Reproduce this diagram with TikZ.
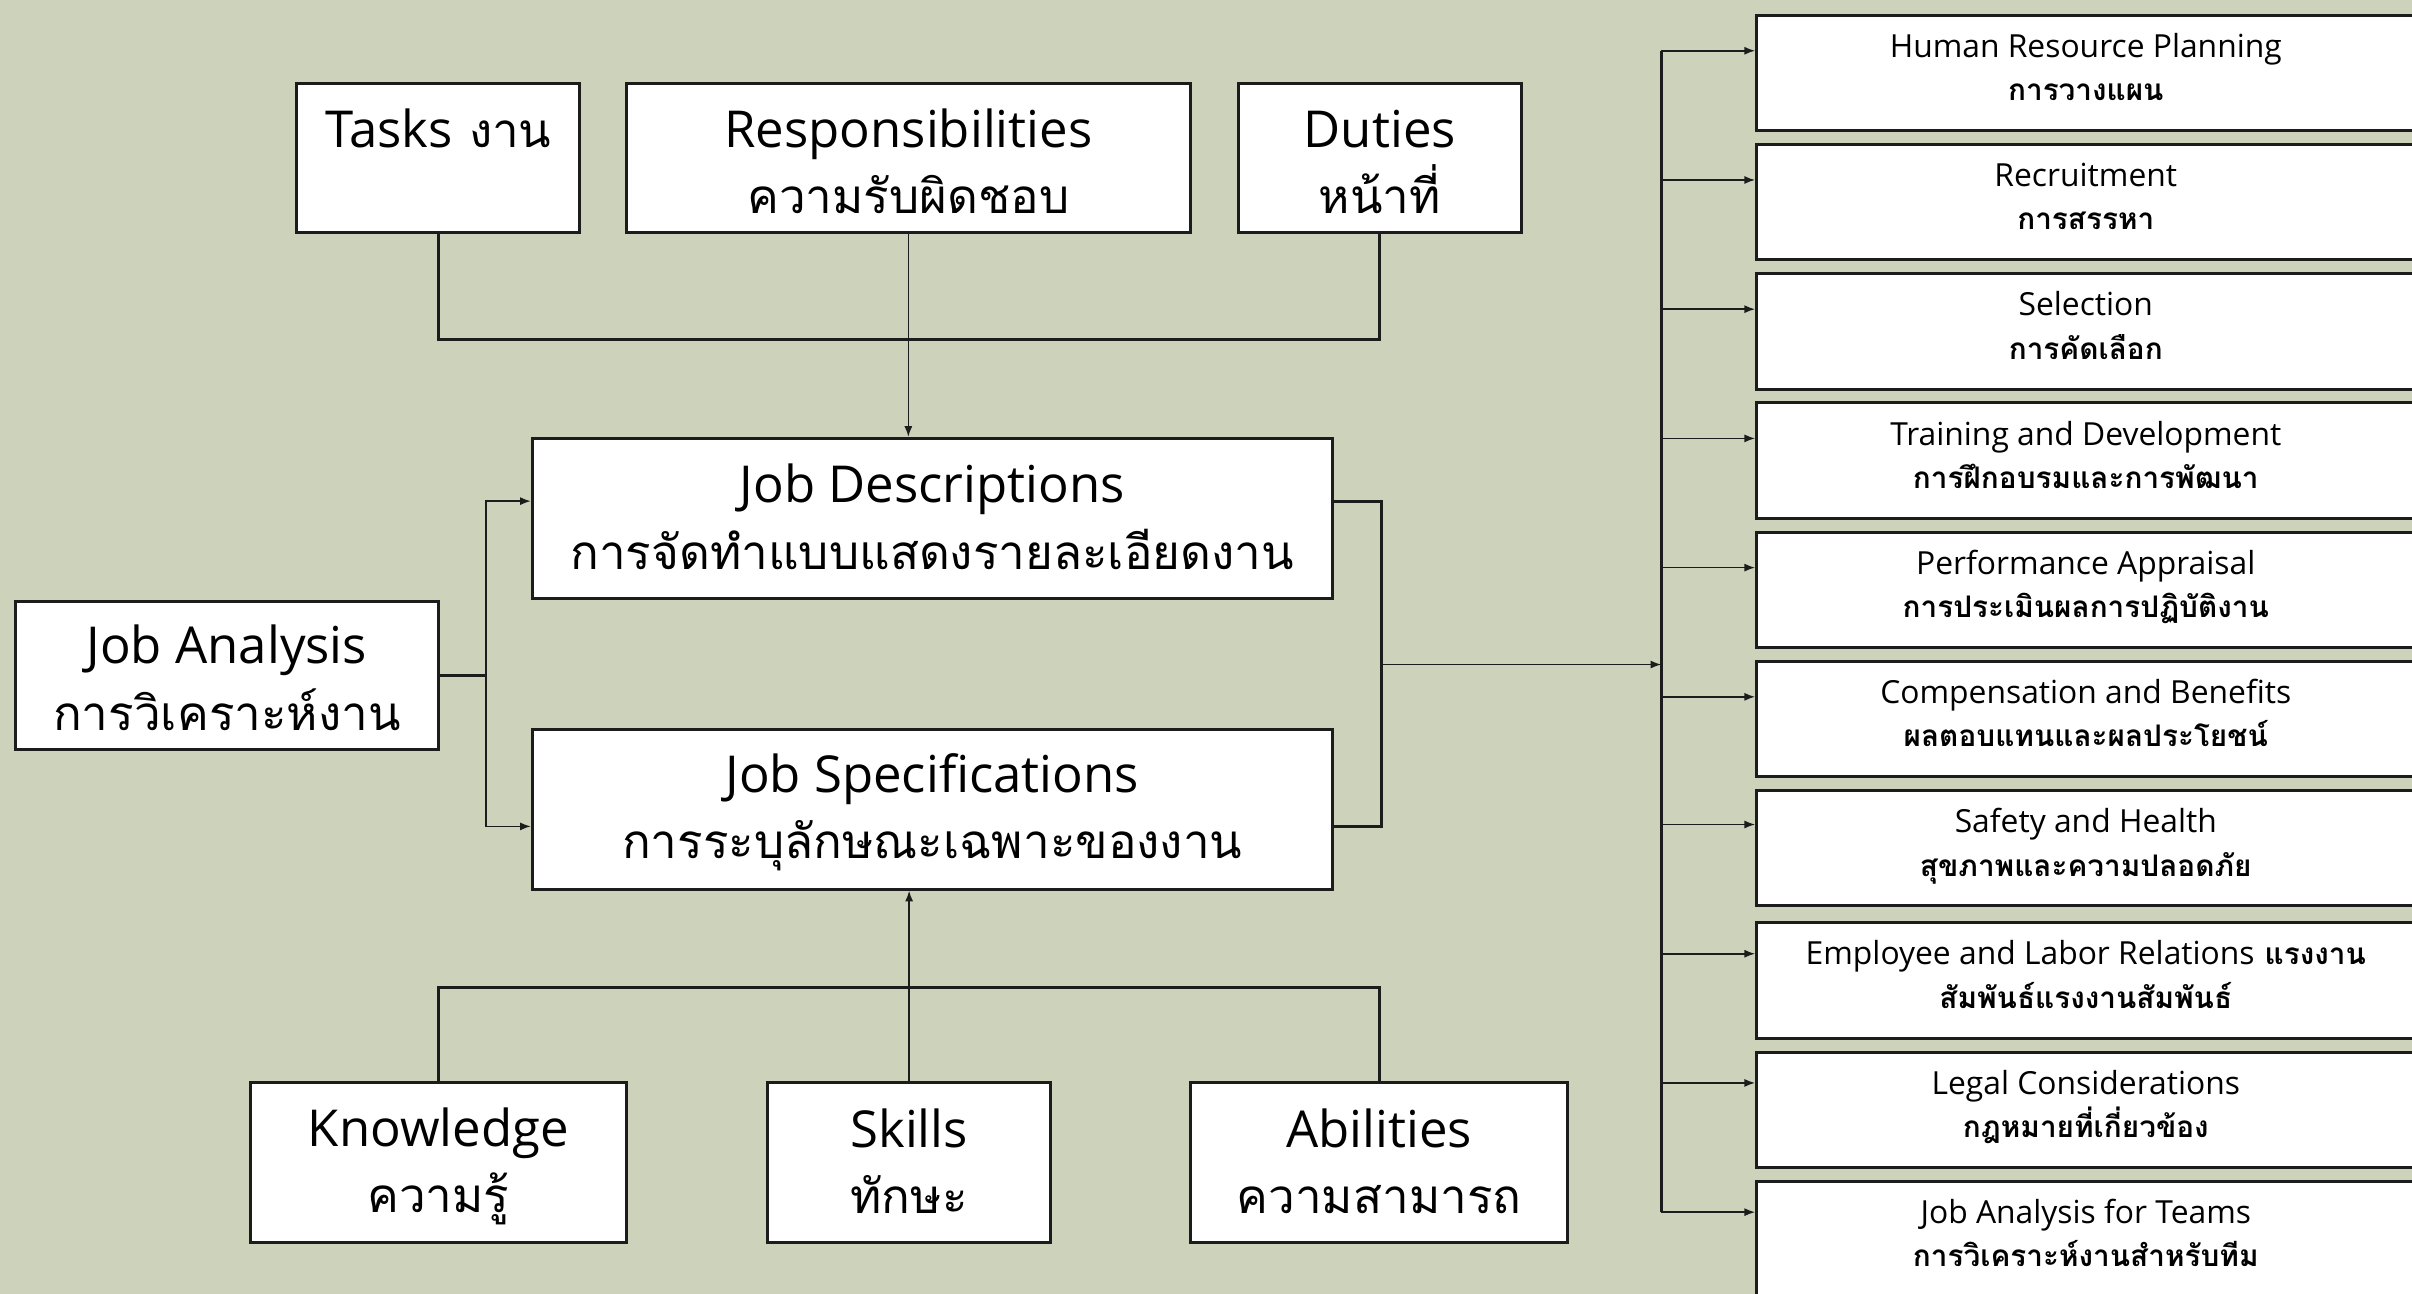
\documentclass[tikz,border=0pt]{standalone}
\usepackage{fontspec}
\setmainfont[Script=Thai]{Loma}
\newfontfamily\latfont[Scale=1.07]{Open Sans}
\usetikzlibrary{arrows.meta,calc}
\definecolor{bg}{RGB}{205,210,186}
\definecolor{ink}{RGB}{28,28,28}
% Latin words in the sans face, Thai in Loma
\newcommand\en[1]{{\latfont #1}}
% struts that give every two-line box the same text block
\newcommand\tp{\rule{0pt}{17pt}}
\newcommand\bt[1][4pt]{\rule[-#1]{0pt}{#1}}
% Thai line of the HR boxes, with a fixed depth so the text sits a little high
\newcommand\hrth[1]{{\bfseries\fontsize{11}{16}\selectfont #1\rule[-4.5pt]{0pt}{4.5pt}}}

\begin{document}
\begin{tikzpicture}[x=0.02cm,y=-0.02cm,
  box/.style={draw=ink, line width=1.1pt, fill=white, align=center, inner sep=0pt},
  big/.style={box, font=\fontsize{17.6}{24.5}\selectfont},
  hr/.style={box, font=\fontsize{11}{16}\selectfont, minimum width=8.56cm, minimum height=1.5cm, anchor=north west},
  link/.style={draw=ink, line width=1.1pt},
  feed/.style={draw=ink, line width=0.6pt, -{Latex[length=4pt,width=3pt]}},
]
\fill[bg] (0,0) rectangle (1568,841);
\useasboundingbox (0,0) rectangle (1568,841);
\begin{scope}
\clip (0,0) rectangle (1568,841);

% top row: what the job consists of
\node[big, minimum width=3.68cm, minimum height=1.94cm] (tasks) at (285,102.5) {\tp\en{Tasks} งาน\\\bt[0pt]};
\node[big, minimum width=7.34cm, minimum height=1.94cm] (resp) at (590.5,102.5) {\tp\en{Responsibilities}\\ความรับผิดชอบ\bt[0pt]};
\node[big, minimum width=3.68cm, minimum height=1.94cm] (duties) at (897,102.5) {\tp\en{Duties}\\หน้าที่\bt[0pt]};

% the two products of job analysis
\node[big, minimum width=10.4cm, minimum height=2.08cm] (jd) at (606,337) {\tp\en{Job Descriptions}\\การจัดทำแบบแสดงรายละเอียดงาน\bt};
\node[big, minimum width=10.4cm, minimum height=2.08cm] (js) at (606,526) {\tp\en{Job Specifications}\\การระบุลักษณะเฉพาะของงาน\bt[5pt]};
\node[big, minimum width=5.5cm, minimum height=1.92cm] (ja) at (147.5,439) {\tp\en{Job Analysis}\\การวิเคราะห์งาน\bt[1pt]};

% bottom row: what the worker needs
\node[big, minimum width=4.88cm, minimum height=2.08cm] (know) at (285,756) {\tp\en{Knowledge}\\ความรู้\bt};
\node[big, minimum width=3.68cm, minimum height=2.08cm] (skills) at (591,756) {\tp\en{Skills}\\ทักษะ\bt};
\node[big, minimum width=4.9cm, minimum height=2.08cm] (abil) at (896.5,756) {\tp\en{Abilities}\\ความสามารถ\bt};

% HR functions that use the results
\node[hr] (hrp)   at (1141,9)   {\en{Human Resource Planning}\\\hrth{การวางแผน}};
\node[hr] (recr)  at (1141,93)  {\en{Recruitment}\\\hrth{การสรรหา}};
\node[hr] (sel)   at (1141,177) {\en{Selection}\\\hrth{การคัดเลือก}};
\node[hr] (train) at (1141,261) {\en{Training and Development}\\\hrth{การฝึกอบรมและการพัฒนา}};
\node[hr] (perf)  at (1141,345) {\en{Performance Appraisal}\\\hrth{การประเมินผลการปฏิบัติงาน}};
\node[hr] (comp)  at (1141,429) {\en{Compensation and Benefits}\\\hrth{ผลตอบแทนและผลประโยชน์}};
\node[hr] (safe)  at (1141,513) {\en{Safety and Health}\\\hrth{สุขภาพและความปลอดภัย}};
\node[hr] (labor) at (1141,599) {\en{Employee and Labor Relations} {\bfseries\fontsize{11}{16}\selectfont แรงงาน}\\\hrth{สัมพันธ์แรงงานสัมพันธ์}};
\node[hr] (legal) at (1141,683) {\en{Legal Considerations}\\\hrth{กฎหมายที่เกี่ยวข้อง}};
\node[hr] (team)  at (1141,767) {\en{Job Analysis for Teams}\\\hrth{การวิเคราะห์งานสำหรับทีม}};

% top bracket into job descriptions
\coordinate (topbar) at (590,221);
\draw[link] (tasks.south) -- (tasks.south |- topbar) -- (duties.south |- topbar) -- (duties.south);
\draw[feed] (resp.south) -- (resp.south |- jd.north);

% bottom bracket into job specifications
\coordinate (botbar) at (590,642);
\draw[link] (know.north) -- (know.north |- botbar) -- (abil.north |- botbar) -- (abil.north);
\draw[feed] (skills.north) -- (skills.north |- js.south);

% job analysis splits into the two documents
\coordinate (jdL) at ($(jd.north west)!0.394!(jd.south west)$);
\coordinate (jsL) at ($(js.north west)!0.606!(js.south west)$);
\coordinate (jdR) at ($(jd.north east)!0.394!(jd.south east)$);
\coordinate (jsR) at ($(js.north east)!0.606!(js.south east)$);
\draw[link] (ja.east) -- ++(30,0) coordinate (lb);
\draw[feed] (lb) |- (jdL);
\draw[feed] (lb) |- (jsL);
\draw[link] (jdR) -- ++(31,0) coordinate (rbt) |- (jsR);
\coordinate (hub) at (1080,432);
\draw[feed] (rbt |- hub) -- (hub);

% distribution to the HR functions
\draw[link] ($(hrp.north west)+(-61,24)$) -- ($(team.north west)+(-61,21)$);
\foreach \b/\d in {hrp/24,recr/24,sel/24,train/24,perf/24,comp/24,safe/23,labor/21,legal/21,team/21}{
  \draw[feed] ($(\b.north west)+(-61,\d)$) -- ($(\b.north west)+(0,\d)$);
}
\end{scope}
\end{tikzpicture}
\end{document}
